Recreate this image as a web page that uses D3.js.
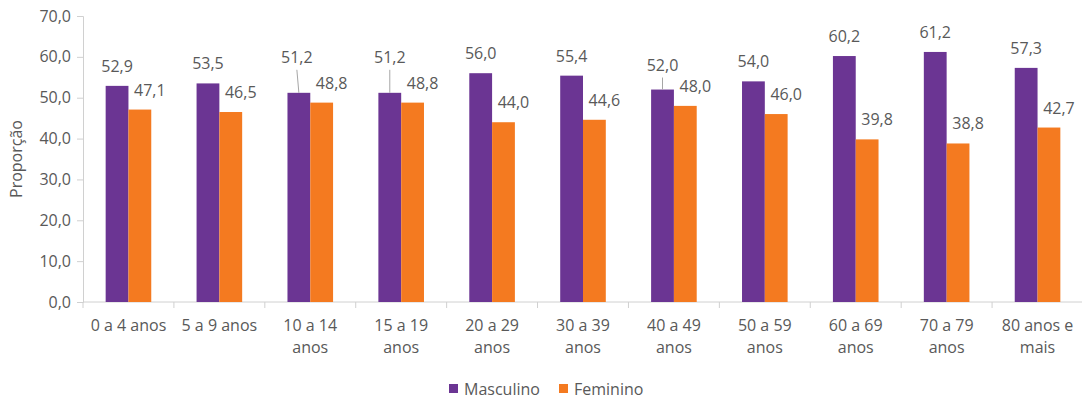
<!DOCTYPE html>
<html><head><meta charset="utf-8">
<script src="https://cdn.jsdelivr.net/npm/d3@7"></script>
<style>
body{margin:0;background:#fff;}
text{font-family:"Open Sans",sans-serif;fill:#595959;}
</style></head><body>
<svg id="chart" width="1082" height="400"></svg>
<script>
const categories = ["0 a 4 anos","5 a 9 anos","10 a 14 anos","15 a 19 anos","20 a 29 anos","30 a 39 anos","40 a 49 anos","50 a 59 anos","60 a 69 anos","70 a 79 anos","80 anos e mais"];
const masculino = [52.9,53.5,51.2,51.2,56.0,55.4,52.0,54.0,60.2,61.2,57.3];
const feminino  = [47.1,46.5,48.8,48.8,44.0,44.6,48.0,46.0,39.8,38.8,42.7];
const seriesNames = ["Masculino","Feminino"];
const yTicks = [0,10,20,30,40,50,60,70];

const colors = ["#6B3593","#F47A20"];
const axisColor = "#d0d0d0";
const fmt = v => d3.format(".1f")(v).replace(".", ",");
// extra lift for labels drawn with a leader line (category index -> [lift px, dx])
const leader = {2:[30,-2], 3:[30,0], 6:[19,0]};

const svg = d3.select("#chart");
const x0 = d3.scaleBand().domain(categories).range([83,1083]).paddingInner(0).paddingOuter(0);
const x1 = d3.scaleBand().domain(seriesNames).range([x0.bandwidth()/2-22.8, x0.bandwidth()/2+22.8]);
const y = d3.scaleLinear().domain([0,70]).range([302,16]);

// y axis
const ya = svg.append("g").attr("transform","translate(83,0)")
  .call(d3.axisLeft(y).tickValues(yTicks).tickFormat(fmt).tickSize(6).tickPadding(6));
ya.select(".domain").attr("stroke",axisColor);
ya.selectAll(".tick line").attr("stroke",axisColor);
ya.selectAll(".tick text").style("font-size","16px").attr("fill","#595959").attr("font-family","Open Sans");

// x axis
const xa = svg.append("g").attr("transform","translate(0,302)")
  .call(d3.axisBottom(x0).tickSize(0).tickPadding(0).tickFormat(""));
xa.select(".domain").attr("stroke",axisColor).attr("d","M83,0H1083");
const bounds = d3.range(categories.length+1).map(i => x0.range()[0] + i*x0.step());
xa.selectAll(".bnd").data(bounds).join("line").attr("class","bnd")
  .attr("x1",d=>d).attr("x2",d=>d).attr("y1",0).attr("y2",6).attr("stroke",axisColor);

// category labels with wrap
const measure = svg.append("text").style("font-size","16px");
function wrap(str, maxW){
  const words = str.split(" "); const lines=[]; let cur="";
  words.forEach(w=>{
    const t = cur? cur+" "+w : w;
    measure.text(t);
    if (measure.node().getComputedTextLength() > maxW && cur){ lines.push(cur); cur=w; } else cur=t;
  });
  lines.push(cur); return lines;
}
categories.forEach(c=>{
  const lines = wrap(c, 80);
  const t = svg.append("text").attr("x", x0(c)+x0.bandwidth()/2).attr("y",331)
    .attr("text-anchor","middle").style("font-size","16px");
  lines.forEach((l,i)=> t.append("tspan").attr("x", x0(c)+x0.bandwidth()/2).attr("dy", i?22:0).text(l));
});
measure.remove();

// bars
const data = categories.map((c,i)=>({c, i, vals:[masculino[i], feminino[i]]}));
const g = svg.selectAll(".grp").data(data).join("g").attr("class","grp")
  .attr("transform",d=>`translate(${x0(d.c)},0)`);
g.selectAll("rect").data(d=>d.vals.map((v,k)=>({v,k,i:d.i}))).join("rect")
  .attr("x",d=>x1(seriesNames[d.k])).attr("width",x1.bandwidth())
  .attr("y",d=>y(d.v)).attr("height",d=>y(0)-y(d.v)).attr("fill",d=>colors[d.k]);

// value labels
g.each(function(d){
  const grp = d3.select(this);
  d.vals.forEach((v,k)=>{
    const cx = x1(seriesNames[k]) + x1.bandwidth()/2;
    const top = y(v);
    if (k===0){
      const L = leader[d.i];
      if (L){
        const ly = top - L[0];
        grp.append("line").attr("x1",cx).attr("y1",top).attr("x2",cx+L[1]).attr("y2",ly+7)
          .attr("stroke","#a6a6a6").attr("stroke-width",1);
        grp.append("text").attr("x",cx+L[1]).attr("y",ly).attr("text-anchor","middle").style("font-size","16px").text(fmt(v));
      } else {
        grp.append("text").attr("x",cx).attr("y",top-14).attr("text-anchor","middle").style("font-size","16px").text(fmt(v));
      }
    } else {
      grp.append("text").attr("x",cx+10).attr("y",top-14).attr("text-anchor","middle").style("font-size","16px").text(fmt(v));
    }
  });
});

// y title
svg.append("text").attr("transform","translate(22,159) rotate(-90)").attr("text-anchor","middle")
  .style("font-size","16px").text("Proporção");

// legend
const legX = [449, 559];
seriesNames.forEach((n,k)=>{
  svg.append("rect").attr("x",legX[k]).attr("y",384).attr("width",9).attr("height",9).attr("fill",colors[k]);
  svg.append("text").attr("x",legX[k]+15).attr("y",394.5).style("font-size","16px").text(n);
});
</script>
</body></html>
